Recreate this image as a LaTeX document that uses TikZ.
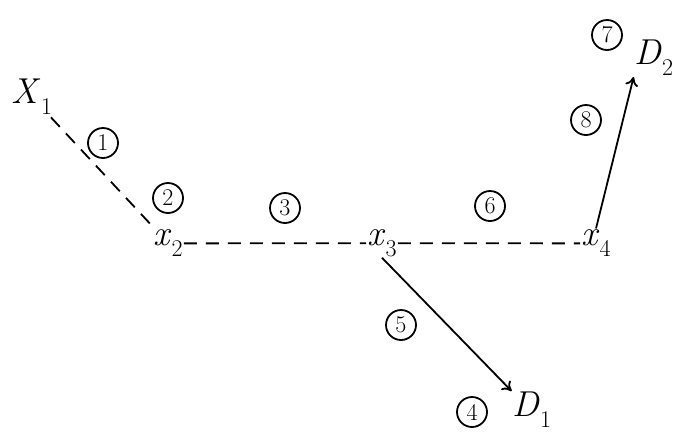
\documentclass[tikz,border=0pt]{standalone}
\usepackage{fontspec}
\setmainfont{Latin Modern Roman}
\usetikzlibrary{arrows.meta}
\newcommand\vsub[2]{\textit{#1}\raisebox{-0.3em}{\fontsize{24}{24}\selectfont #2}}
\begin{document}
\begin{tikzpicture}[x=1pt,y=-1pt,
  var/.style={inner sep=1pt,font=\fontsize{36}{36}\selectfont},
  num/.style={draw,circle,line width=1.8pt,inner sep=1pt,minimum size=30pt,font=\fontsize{24}{24}\selectfont},
  dline/.style={line width=1.8pt,dash pattern=on 13pt off 9pt},
  arr/.style={line width=1.8pt,-{To[length=9pt,width=13pt,line width=1.8pt]}}]
\useasboundingbox (0,0) rectangle (679,437);
% variables
\node[var] (x1) at (32,97) {\vsub{X}{1}};
\node[var] (x2) at (168,243) {\vsub{x}{2}};
\node[var] (x3) at (382,243) {\vsub{x}{3}};
\node[var] (x4) at (596,243) {\vsub{x}{4}};
\node[var] (d1) at (532,410) {\vsub{D}{1}};
\node[var] (d2) at (654,58) {\vsub{D}{2}};
% circled numbers
\node[num] (n1) at (103,143) {1};
\node[num] (n2) at (168,198) {2};
\node[num] (n3) at (285,208) {3};
\node[num] (n4) at (472,412) {4};
\node[num] (n5) at (401,325) {5};
\node[num] (n6) at (490,206) {6};
\node[num] (n7) at (607,35) {7};
\node[num] (n8) at (586,120) {8};
% connectors
\draw[dline,shorten <=2pt,shorten >=2pt] (x1) -- (x2);
\draw[dline] (x2.mid east) -- (x3.mid west);
\draw[dline] (x3.mid east) -- (x4.mid west);
\draw[arr] (x3.south) -- (d1.north west);
\draw[arr] (x4.north) -- (d2.south west);
\end{tikzpicture}
\end{document}
